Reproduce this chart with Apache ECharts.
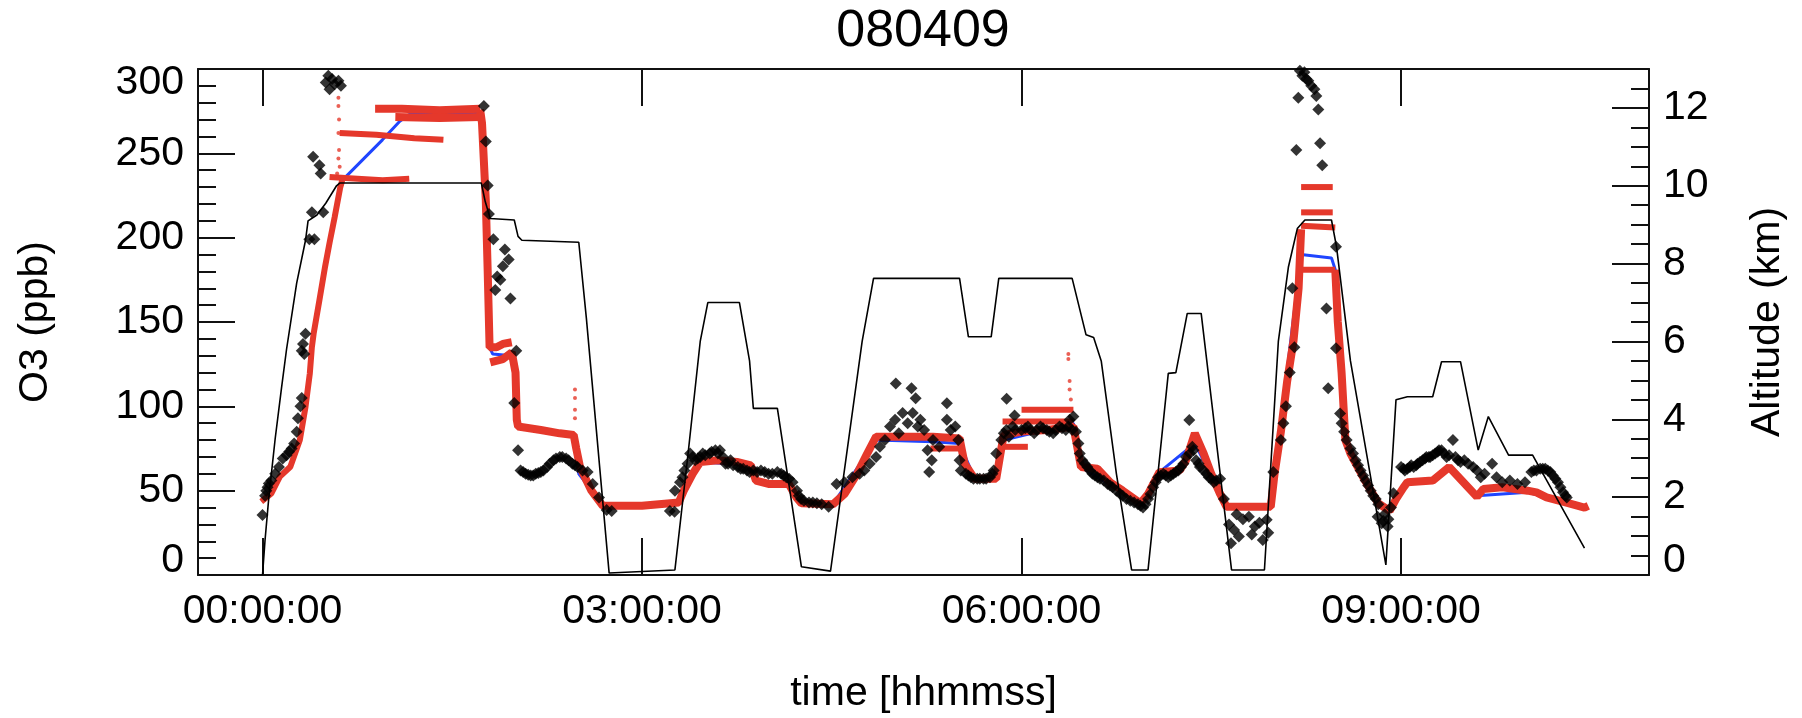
<!DOCTYPE html>
<html><head><meta charset="utf-8">
<script src="https://cdn.jsdelivr.net/npm/echarts@6/dist/echarts.min.js"></script>
<style>html,body{margin:0;padding:0;background:#fff}#c{width:1802px;height:718px}</style>
</head><body><div id="c"></div>
<script>
// ---- tick labels ----
const timeTicks = [0, 3, 6, 9];
const timeTickLabels = ['00:00:00', '03:00:00', '06:00:00', '09:00:00'];
const altLabelTicks = [0, 2, 4, 6, 8, 10, 12];

// ---- altitude (hours, km) ----
const altitude = [[0.00,0.0],[0.02,0.9],[0.05,2.0],[0.10,3.5],[0.15,4.8],[0.19,5.8],[0.27,7.5],[0.34,8.6],[0.36,9.1],[0.43,9.25],[0.50,9.55],[0.585,10.0],[0.61,10.07],[1.73,10.07],[1.76,9.6],[1.80,9.16],[1.99,9.12],[2.02,8.7],[2.05,8.6],[2.50,8.55],[2.56,6.6],[2.74,0.05],[3.26,0.13],[3.36,3.0],[3.46,6.0],[3.52,7.0],[3.77,7.0],[3.85,5.5],[3.88,4.28],[4.07,4.28],[4.26,0.21],[4.49,0.1],[4.74,6.0],[4.83,7.62],[5.51,7.62],[5.58,6.12],[5.76,6.12],[5.82,7.62],[6.40,7.62],[6.51,6.17],[6.57,6.1],[6.63,5.5],[6.75,2.6],[6.87,0.13],[7.00,0.13],[7.16,5.18],[7.22,5.2],[7.31,6.72],[7.42,6.72],[7.66,0.13],[7.92,0.13],[8.03,6.0],[8.11,7.92],[8.18,8.9],[8.24,9.12],[8.45,9.12],[8.49,8.43],[8.60,5.5],[8.88,0.26],[8.96,4.5],[9.05,4.58],[9.25,4.58],[9.32,5.48],[9.47,5.48],[9.61,3.21],[9.69,4.07],[9.85,3.08],[10.04,3.08],[10.45,0.69]];

// ---- observed O3 (hours, ppb) black diamonds ----
const obsO3 = [[0.00,35.6],[0.02,47],[0.03,50],[0.04,52],[0.05,54.3],[0.07,56],[0.10,60],[0.13,64],[0.16,69],[0.19,71],[0.21,73],[0.23,75],[0.25,78],[0.27,85],[0.28,93],[0.30,100],[0.31,105],[0.31,133],[0.32,137],[0.33,131],[0.34,143],
[0.37,199],[0.41,199],[0.39,215],[0.48,215],[0.40,248],[0.45,243],[0.46,238],
[0.50,292],[0.52,296],[0.53,288],[0.55,294],[0.57,291],[0.60,293],[0.62,290],
[1.75,278],[1.765,257],[1.78,231],[1.79,214],[1.825,199],[1.84,169],[1.855,177],[1.88,175],[1.90,183],[1.916,193],[1.946,187],[1.96,164],
[2.006,133],[1.99,102],[2.02,74],
[2.04,62],[2.06,61],[2.08,60],[2.10,59.5],[2.12,59],[2.14,59],[2.16,60],[2.18,60.5],[2.20,61],[2.22,62],[2.25,64],[2.27,66],[2.30,68],[2.32,69],[2.35,70],[2.37,70],[2.40,69],[2.42,68],[2.45,66],[2.47,65],[2.49,64],[2.53,62],[2.57,61],[2.61,54],[2.66,46],[2.72,38.5],[2.76,38],
[3.22,38],[3.257,37.5],[3.26,50],[3.30,55],[3.32,58],[3.335,62],[3.36,66],[3.38,72],[3.40,70],[3.42,68],[3.44,69],[3.46,70],[3.48,72],[3.50,71],[3.535,72],[3.55,73],[3.58,74],[3.60,72],[3.616,74],[3.64,70],[3.66,66],[3.68,66],[3.70,68],[3.72,65],[3.757,64],[3.78,63],[3.80,63],[3.83,62],[3.85,61],[3.88,62],[3.91,61],[3.94,62],[3.97,61],[4.00,60],[4.03,60],[4.07,61],[4.10,60],[4.12,59],[4.14,58],[4.163,57],[4.19,55],[4.225,50],[4.24,47],[4.257,45],[4.28,44],[4.32,43],[4.35,43],[4.382,42.5],[4.42,42],[4.475,40.5],[4.538,54],[4.60,55],[4.663,58],[4.72,60],[4.757,62],[4.80,66],[4.85,70],[4.88,76],
[4.92,80],[4.96,88],[5.006,113.6],[5.00,92],[5.03,84],[5.06,96],[5.10,90],[5.13,110.7],[5.14,96],[5.163,104.8],[5.18,88],[5.20,92],[5.23,86],[5.257,74],[5.27,61],[5.29,68],[5.30,80],[5.35,76],[5.41,101.8],[5.41,92],[5.44,86],[5.476,88],[5.50,80],[5.51,68],[5.52,62],
[5.56,60],[5.58,59],[5.60,58],[5.62,57],[5.65,57],[5.67,57],[5.70,57],[5.72,57],[5.75,58],[5.77,60],[5.78,62],
[5.80,72],[5.84,80],[5.86,84],[5.882,104.5],[5.88,86],[5.90,82],[5.93,88],[5.945,94.6],[5.95,86],[6.00,86],[6.03,87],[6.05,88],[6.07,86],[6.10,84],[6.12,86],[6.15,88],[6.17,87],[6.20,86],[6.22,85],[6.25,84],[6.27,86],[6.30,88],[6.32,87],[6.35,86],[6.37,88],[6.38,92],[6.40,86],[6.41,94],[6.43,85],[6.45,78],
[6.46,72],[6.48,68],[6.50,66],[6.52,64],[6.54,62],[6.56,60],[6.58,59],[6.60,58],[6.62,57],[6.65,56],[6.68,54],[6.70,53],[6.72,52],[6.75,50],[6.78,48],[6.80,47],[6.83,45],[6.86,44],[6.89,43],[6.92,42],[6.94,41],[6.96,40],[6.98,42],[7.00,45],[7.02,48],[7.04,52],[7.06,55],[7.08,58],[7.10,59],[7.12,60],[7.14,59],[7.16,58],[7.18,59],[7.20,60],[7.22,61],[7.24,62],[7.26,64],[7.28,66],[7.30,70],[7.326,91.9],[7.33,72],[7.35,76],[7.36,74],[7.38,68],[7.40,66],[7.41,64],[7.44,62],[7.46,60],[7.48,58],[7.50,57],[7.52,55],[7.54,56],[7.57,57],[7.60,45],
[7.64,30],[7.656,18.8],[7.68,26.7],[7.70,36],[7.718,22.8],[7.75,33],[7.797,34.6],[7.82,24],[7.844,28.7],[7.88,31],[7.907,20.8],[7.938,32.7],[7.95,25],
[7.99,61],[8.05,80],[8.07,90],[8.09,100],[8.12,120],[8.141,170],[8.157,135],[8.172,252],[8.188,283],[8.20,299],[8.22,296],[8.236,298],[8.25,294],[8.267,293],[8.29,290],[8.315,288],[8.33,284],[8.346,276],[8.36,256],[8.377,243],[8.41,158],[8.424,110.7],[8.486,194.6],[8.486,134.4],[8.518,95.8],
[8.53,90],[8.55,85],[8.57,80],[8.60,75],[8.62,72],[8.64,68],[8.66,65],[8.68,62],[8.70,59],[8.72,56],[8.74,53],[8.76,50],[8.78,47],[8.80,45],[8.82,42],[8.815,34.6],[8.847,30.7],[8.86,32],[8.87,36],[8.894,28.7],[8.90,33],[8.92,40],
[8.94,48.4],[9.00,64],[9.02,63],[9.03,62],[9.05,63],[9.07,64],[9.08,65],[9.10,64],[9.12,65],[9.13,66],[9.15,67],[9.17,68],[9.19,69],[9.20,70],[9.22,70],[9.23,70],[9.25,71],[9.27,72],[9.29,73],[9.30,74],[9.32,74],[9.34,72],[9.36,70],[9.38,71],[9.41,80],[9.43,70],[9.45,68],[9.47,67],[9.50,68],[9.53,66],[9.57,64],[9.60,62],[9.63,58],[9.66,60],[9.72,66],[9.755,58],[9.80,55],[9.86,56],[9.92,54],[9.98,55],[10.03,61],[10.05,62],[10.07,62],[10.10,63],[10.12,63],[10.14,63],[10.16,62],[10.18,61],[10.20,59],[10.22,57],[10.24,55],[10.26,52],[10.28,49],[10.30,47],[10.31,46]];

// ---- modelled O3, red (hours, ppb), drawn as bands ----
const redRise = [[-0.01,43.5],[0.07,48.4],[0.137,58.3],[0.22,64.2],[0.295,80],[0.34,99.8],[0.374,119.6],[0.39,135],[0.404,143],[0.45,163],[0.495,183],[0.53,197],[0.57,212],[0.615,230],[0.63,234]];
const redBandA = [[0.53,236],[0.75,235],[0.95,234],[1.16,235]];
const redBandB = [[0.61,262],[0.90,261],[1.20,259],[1.43,258]];
const redBandC1 = [[0.89,276.5],[1.10,276.5],[1.40,275.5],[1.72,276.5]];
const redBandC2 = [[1.05,271.5],[1.40,271],[1.72,271.5]];
const redDescent = [[1.72,276],[1.735,268],[1.765,222],[1.78,180],[1.795,135],[1.85,135],[1.90,137],[1.97,138]];
const redMain = [[1.80,126],[1.90,128],[1.97,132],[2.00,120],[2.01,92],[2.02,88],[2.20,86],[2.35,84],[2.46,83],[2.48,75],[2.51,64],[2.60,50],[2.69,41],[3.00,41],[3.29,43],[3.33,50],[3.40,60],[3.46,67],[3.60,68],[3.75,67],[3.86,65],[3.90,56],[4.00,54],[4.16,54],[4.22,46],[4.26,42.5],[4.51,42],[4.60,48],[4.70,60],[4.78,72],[4.85,82],[5.00,82],[5.30,82],[5.51,81],[5.55,66],[5.63,57],[5.80,57],[5.84,75],[5.86,83],[6.00,85],[6.20,86],[6.41,88],[6.45,72],[6.47,64],[6.60,63],[6.70,55],[6.80,50],[6.94,42.5],[7.00,48],[7.09,61],[7.25,62],[7.30,68],[7.37,84],[7.44,72],[7.50,60],[7.57,48],[7.62,40.5],[7.97,40.5],[8.00,60],[8.05,85],[8.10,115],[8.15,139],[8.19,170],[8.21,205]];
const redPeak1 = [[8.21,230],[8.46,230]];
const redPeak2 = [[8.21,215],[8.46,215]];
const redPeak3 = [[8.21,207],[8.48,206]];
const redPeak4 = [[8.21,181],[8.48,181]];
const redTail = [[8.48,181],[8.50,150],[8.53,120],[8.56,80],[8.60,72],[8.70,58],[8.82,42.5],[8.91,38],[8.96,45],[9.02,52],[9.05,55],[9.25,56],[9.38,64],[9.60,46.4],[9.65,51],[9.80,52],[10.00,50],[10.07,49],[10.15,46],[10.30,43],[10.45,40],[10.48,41]];
const redBand75 = [[5.28,75],[5.51,75]];
const redBand98 = [[6.00,98],[6.41,98]];
const redBand91 = [[5.85,91],[6.41,91]];
const redBand76 = [[5.85,76],[6.05,76]];
const redOutliers = [[0.60,283],[0.60,278],[0.605,270],[0.60,262],[0.605,252],[0.60,247],[0.61,242],[0.59,238],[2.47,110],[2.47,105],[2.47,98],[2.47,93],[6.37,131],[6.37,128],[6.38,115],[6.38,110],[6.39,104]];

// ---- blue line (hours, ppb) ----
const blueO3 = [[-0.01,44],[0.07,48.4],[0.137,58],[0.22,64],[0.295,80],[0.34,100],[0.374,120],[0.404,143],[0.495,183],[0.57,212],[0.615,231],[0.63,234],[0.948,258],[1.085,269],[1.16,273],[1.72,274],[1.735,270],[1.765,222],[1.795,135],[1.82,131],[1.97,130],[2.00,120],[2.02,88],[2.46,83],[2.50,60],[2.69,41.5],[3.29,43],[3.46,67],[3.88,65],[3.92,55],[4.16,54],[4.26,43],[4.51,42],[4.85,80],[5.30,79],[5.51,78],[5.63,57],[5.80,57],[5.86,80],[6.41,90],[6.47,64],[6.94,42.5],[7.09,61],[7.37,78],[7.62,40.5],[7.97,40.5],[8.21,190],[8.45,188],[8.48,181],[8.56,80],[8.82,42.5],[8.91,38],[9.05,55],[9.25,56],[9.38,63],[9.60,47],[10.00,49],[10.45,40]];

const redMainSegs = [redDescent, redMain, redTail, redBandC1, redBandC2];
const redThinSegs = [redRise, redBandA, redBandB, redPeak1, redPeak2, redPeak3, redPeak4, redBand75, redBand98, redBand91, redBand76];

// ---- chart ----
const FONT = '"Liberation Sans", Arial, Helvetica, sans-serif';
const RED = '#e5382b', BLUE = '#1f45ff', INK = '#111';
const chart = echarts.init(document.getElementById('c'), null, {renderer: 'canvas'});
const txt = (size) => ({fontFamily: FONT, fontSize: size, color: '#000', fontWeight: 'normal'});
const frameLine = {show: true, onZero: false, lineStyle: {color: INK, width: 2}};
const tickStyle = {color: INK, width: 2};

const series = [];
series.push({type: 'line', xAxisIndex: 0, yAxisIndex: 0, data: blueO3, showSymbol: false, symbol: 'none', z: 2, lineStyle: {color: BLUE, width: 3}});
redMainSegs.forEach(seg => series.push({type: 'line', xAxisIndex: 0, yAxisIndex: 0, data: seg, symbol: 'none', z: 3, lineStyle: {color: RED, width: 8}}));
redThinSegs.forEach(seg => series.push({type: 'line', xAxisIndex: 0, yAxisIndex: 0, data: seg, symbol: 'none', z: 3, lineStyle: {color: RED, width: 6}}));
series.push({type: 'scatter', xAxisIndex: 0, yAxisIndex: 0, data: redOutliers, symbol: 'circle', symbolSize: 4, z: 3, itemStyle: {color: RED}});
series.push({type: 'scatter', xAxisIndex: 0, yAxisIndex: 0, data: obsO3, symbol: 'diamond', symbolSize: 12, z: 4, itemStyle: {color: '#000'}});
series.push({type: 'line', xAxisIndex: 0, yAxisIndex: 1, data: altitude, symbol: 'none', z: 5, lineStyle: {color: '#000', width: 1.6}});

const option = {
  animation: false,
  backgroundColor: '#fff',
  title: {text: '080409', left: 923, top: 6, padding: 0, textAlign: 'center', textStyle: txt(52)},
  grid: {left: 198, right: 153, top: 69, bottom: 143, containLabel: false, outerBoundsMode: 'none'},
  xAxis: [
    {type: 'value', position: 'bottom', min: -0.51, max: 10.96,
     axisLine: frameLine,
     axisTick: {show: true, inside: true, length: 37, customValues: timeTicks, lineStyle: tickStyle},
     axisLabel: {show: true, customValues: timeTicks, margin: 16, formatter: v => timeTickLabels[timeTicks.indexOf(v)], ...txt(41)},
     splitLine: {show: false},
     name: 'time [hhmmss]', nameLocation: 'middle', nameGap: 98, nameTextStyle: txt(41)},
    {type: 'value', position: 'top', min: -0.51, max: 10.96,
     axisLine: frameLine,
     axisTick: {show: true, inside: true, length: 37, customValues: timeTicks, lineStyle: tickStyle},
     axisLabel: {show: false}, splitLine: {show: false}}
  ],
  yAxis: [
    {type: 'value', position: 'left', min: 0, max: 300, interval: 50,
     axisLine: frameLine,
     axisTick: {show: true, inside: true, length: 37, lineStyle: tickStyle},
     minorTick: {show: true, splitNumber: 5, length: 18, lineStyle: tickStyle},
     axisLabel: {show: true, margin: 14, lineHeight: 28, showMinLabel: true, showMaxLabel: true, verticalAlignMinLabel: 'bottom', verticalAlignMaxLabel: 'top', ...txt(41)},
     splitLine: {show: false}, minorSplitLine: {show: false},
     name: 'O3 (ppb)', nameLocation: 'middle', nameRotate: 90, nameGap: 142, nameTextStyle: txt(41)},
    {type: 'value', position: 'right', min: 0, max: 13, interval: 2,
     axisLine: frameLine,
     axisTick: {show: true, inside: true, length: 37, lineStyle: tickStyle},
     minorTick: {show: true, splitNumber: 4, length: 18, lineStyle: tickStyle},
     axisLabel: {show: true, margin: 14, lineHeight: 28, customValues: altLabelTicks, verticalAlignMinLabel: 'bottom', ...txt(41)},
     splitLine: {show: false}, minorSplitLine: {show: false},
     name: 'Altitude (km)', nameLocation: 'middle', nameRotate: 90, nameGap: 98, nameTextStyle: txt(41)}
  ],
  series: series
};
chart.setOption(option);
</script>
</body></html>
